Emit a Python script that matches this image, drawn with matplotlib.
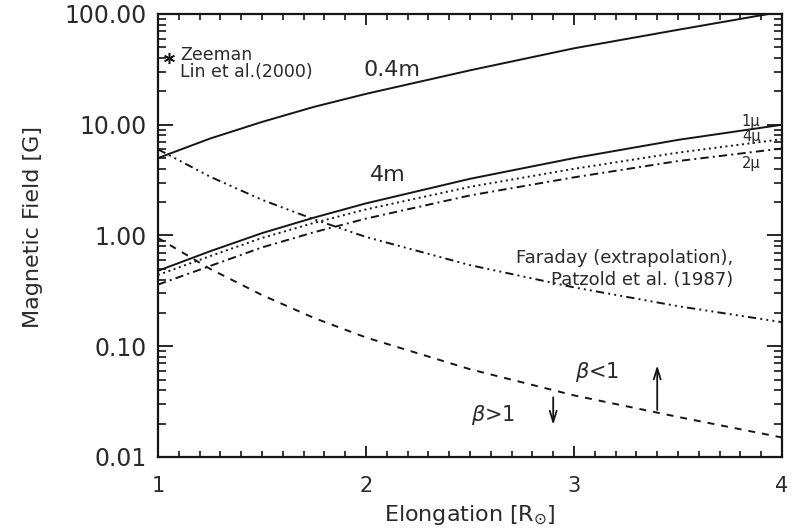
import matplotlib
matplotlib.use("Agg")
import matplotlib.pyplot as plt
from matplotlib.ticker import MultipleLocator, FixedLocator, LogLocator, FormatStrFormatter, NullFormatter

plt.rcParams['font.family'] = ['DejaVu Sans']
plt.rcParams['lines.scale_dashes'] = False
plt.rcParams['mathtext.fontset'] = 'dejavusans'

# Elongation grid [solar radii]
elong = [1.0, 1.25, 1.5, 1.75, 2.0, 2.5, 3.0, 3.5, 4.0]

# Magnetic field estimates [G]
b_04m = [5.0, 7.5, 10.6, 14.5, 19.0, 31.0, 49.0, 72.0, 105.0]
b_1mu = [0.48, 0.72, 1.05, 1.45, 1.95, 3.25, 5.0, 7.3, 10.0]
b_4mu = [0.44, 0.65, 0.95, 1.30, 1.72, 2.75, 4.0, 5.6, 7.4]
b_2mu = [0.36, 0.53, 0.78, 1.07, 1.42, 2.30, 3.35, 4.7, 6.1]
b_faraday = [6.0, 3.4, 2.1, 1.4, 0.97, 0.54, 0.34, 0.23, 0.165]
b_beta1 = [0.95, 0.50, 0.29, 0.18, 0.12, 0.062, 0.036, 0.023, 0.015]

# Zeeman measurement (Lin et al. 2000)
zeeman_x = [1.053]
zeeman_b = [40.0]

y_ticks = [0.01, 0.1, 1.0, 10.0, 100.0]
x_ticks = [1, 2, 3, 4]

ink = '#151515'
txt = '#2a2a2a'

fig = plt.figure(figsize=(7.97, 5.32), dpi=100)
ax = fig.add_axes([0.1982, 0.141, 0.783, 0.8327])

lw = 1.4
ax.plot(elong, b_04m, color=ink, lw=lw, ls='-')
ax.plot(elong, b_1mu, color=ink, lw=lw, ls='-')
ax.plot(elong, b_4mu, color=ink, lw=lw, ls=(0, (1.4, 2.6)))
ax.plot(elong, b_2mu, color=ink, lw=lw, ls=(0, (6, 3, 1.4, 3)))
ax.plot(elong, b_faraday, color=ink, lw=lw, ls=(0, (6, 3, 1.4, 3, 1.4, 3, 1.4, 3)))
ax.plot(elong, b_beta1, color=ink, lw=lw, ls=(0, (5, 5)))
ax.plot(zeeman_x, zeeman_b, ls='none', marker=(6, 2, 0), ms=8, mew=1.1, color=ink)

ax.set_xscale('linear')
ax.set_yscale('log')
ax.set_xlim(1, 4)
ax.set_ylim(0.01, 100)

ax.xaxis.set_major_locator(FixedLocator(x_ticks))
ax.xaxis.set_minor_locator(MultipleLocator(0.1))
ax.yaxis.set_major_locator(FixedLocator(y_ticks))
ax.yaxis.set_minor_locator(LogLocator(base=10, subs=range(2, 10), numticks=20))
ax.yaxis.set_major_formatter(FormatStrFormatter('%.2f'))
ax.yaxis.set_minor_formatter(NullFormatter())
ax.xaxis.set_major_formatter(FormatStrFormatter('%d'))

ax.tick_params(axis='x', which='major', direction='in', length=8, width=1.3,
               top=True, bottom=True, labelsize=15, pad=14, labelcolor=txt, color=ink)
ax.tick_params(axis='x', which='minor', direction='in', length=4, width=1.2,
               top=True, bottom=True, color=ink)
ax.tick_params(axis='y', which='major', direction='in', length=11, width=1.3,
               left=True, right=True, labelsize=17, pad=8, labelcolor=txt, color=ink)
ax.tick_params(axis='y', which='minor', direction='in', length=6, width=1.2,
               left=True, right=True, color=ink)
for sp in ax.spines.values():
    sp.set_linewidth(1.6)
    sp.set_color(ink)

fig.text(0.589, 0.032, r'Elongation [R$_{\odot}$]', ha='center', va='center',
         fontsize=16, color=txt)
fig.text(0.041, 0.573, 'Magnetic Field [G]', ha='center', va='center',
         rotation=90, fontsize=16, color=txt)

# Curve annotations
ax.text(2.125, 31, '0.4m', fontsize=16, ha='center', va='center', color=txt)
ax.text(2.105, 3.5, '4m', fontsize=16, ha='center', va='center', color=txt)
ax.text(3.85, 10.7, '1μ', fontsize=10.5, ha='center', va='center', color=txt)
ax.text(3.856, 7.8, '4μ', fontsize=10.5, ha='center', va='center', color=txt)
ax.text(3.85, 4.47, '2μ', fontsize=10.5, ha='center', va='center', color=txt)
ax.text(3.764, 0.62, 'Faraday (extrapolation),', fontsize=13, ha='right', va='center', color=txt)
ax.text(3.764, 0.40, 'Patzold et al. (1987)', fontsize=13, ha='right', va='center', color=txt)
ax.text(1.106, 43, 'Zeeman', fontsize=12.5, ha='left', va='center', color=txt)
ax.text(1.106, 30, 'Lin et al.(2000)', fontsize=12.5, ha='left', va='center', color=txt)

ax.text(3.11, 0.058, r'$\beta$<1', fontsize=15, ha='center', va='center', color=txt)
ax.text(2.61, 0.0237, r'$\beta$>1', fontsize=15, ha='center', va='center', color=txt)
ax.annotate('', xy=(2.90, 0.0184), xytext=(2.90, 0.0366),
            arrowprops=dict(arrowstyle='->,head_length=0.8,head_width=0.25', lw=1.3, color=ink))
ax.annotate('', xy=(3.40, 0.0713), xytext=(3.40, 0.0251),
            arrowprops=dict(arrowstyle='->,head_length=0.8,head_width=0.25', lw=1.3, color=ink))

fig.savefig('out.png', dpi=100, facecolor='white')
